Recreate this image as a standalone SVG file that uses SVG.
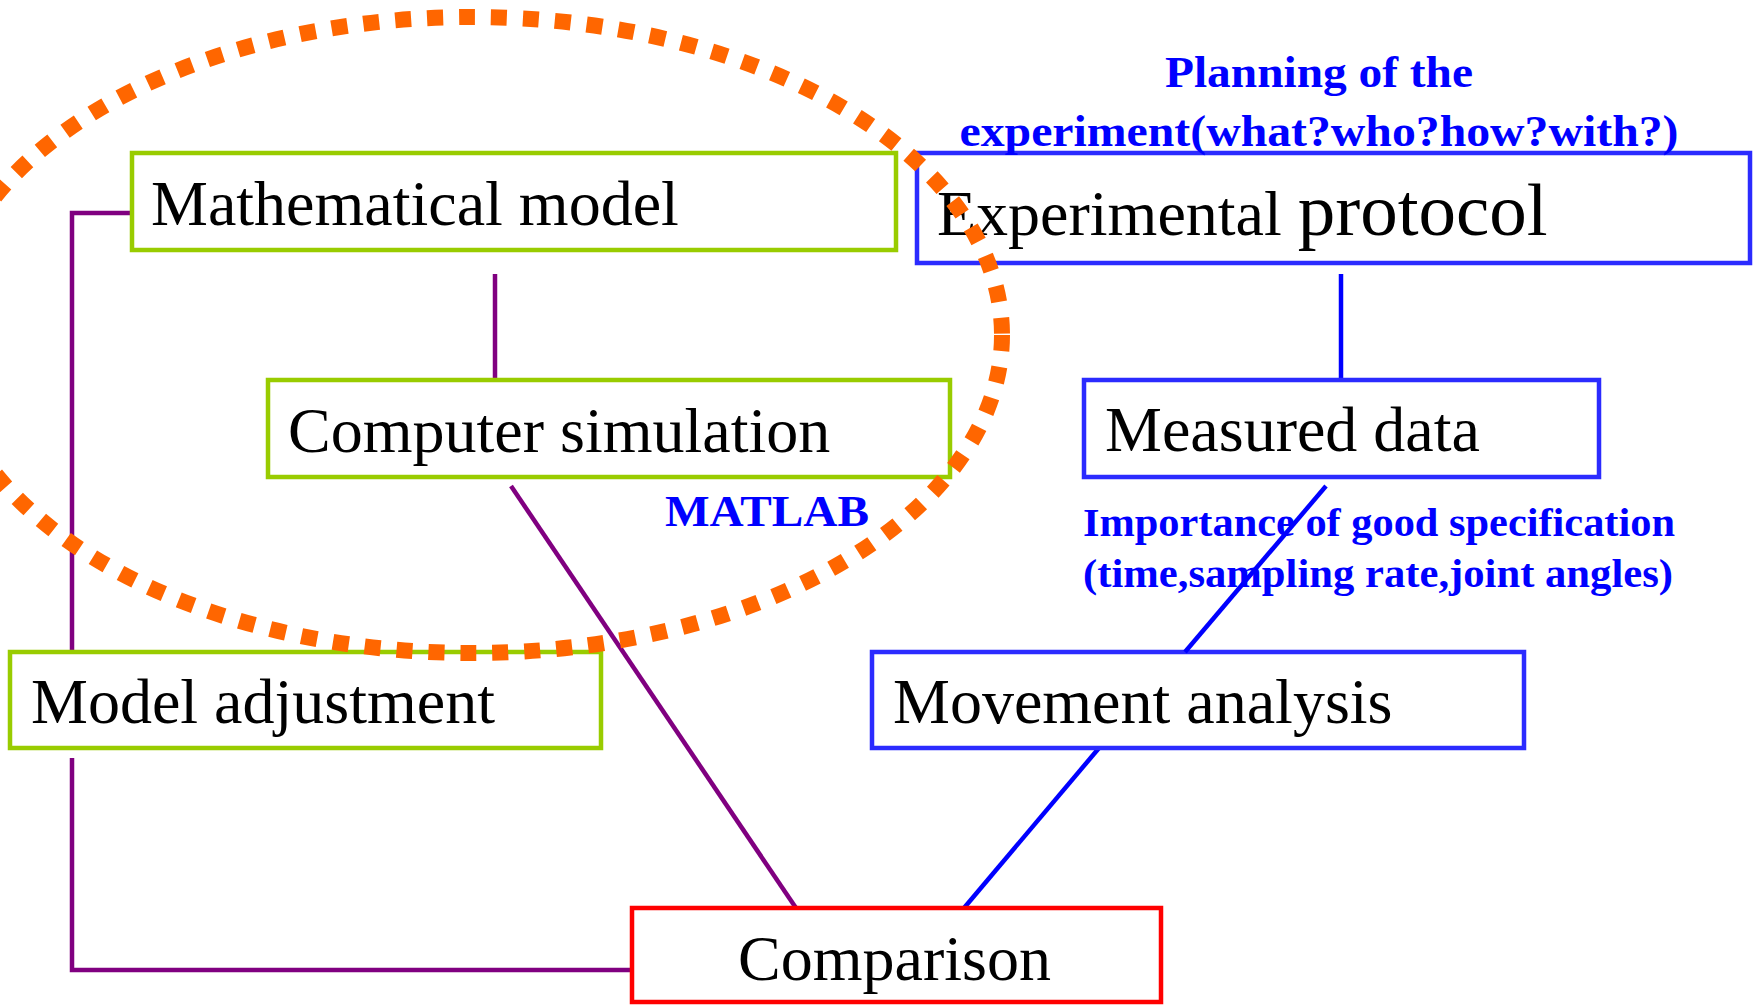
<svg xmlns="http://www.w3.org/2000/svg" width="1756" height="1005" viewBox="0 0 1756 1005">
  <style>
    .box { fill: #ffffff; stroke-width: 4.5; }
    .green { stroke: #99CC00; }
    .blue { stroke: #2B2BFF; }
    .red { stroke: #FF0000; }
    .label { font-family: "Liberation Serif", "Times New Roman", serif; font-size: 64px; fill: #000000; }
    .note { font-family: "Liberation Serif", "Times New Roman", serif; font-weight: bold; fill: #0000FF; }
    .purple { stroke: #800080; stroke-width: 4.5; fill: none; }
    .link-blue { stroke: #0000FF; stroke-width: 4.5; fill: none; }
  </style>

  <rect width="1756" height="1005" fill="#ffffff"/>

  <!-- connectors -->
  <g id="connectors">
    <path class="purple" d="M131 213 H72 V652"/>
    <path class="purple" d="M72 758 V970 H631" />
    <path class="purple" d="M495 274 V380"/>
    <path class="purple" d="M511 486 L796 908" stroke-width="3.5"/>
    <path class="link-blue" d="M1341 274 V380"/>
    <path class="link-blue" d="M1099 748 L964 908"/>
  </g>

  <!-- nodes -->
  <g id="mathematical-model">
    <rect class="box green" x="132" y="153" width="764" height="97"/>
    <text class="label" x="151" y="225">Mathematical model</text>
  </g>

  <g id="computer-simulation">
    <rect class="box green" x="268" y="380" width="682" height="97"/>
    <text class="label" x="288" y="452">Computer simulation</text>
  </g>

  <g id="model-adjustment">
    <rect class="box green" x="10" y="652" width="591" height="96"/>
    <text class="label" x="31" y="723">Model adjustment</text>
  </g>

  <g id="experimental-protocol">
    <rect class="box blue" x="917" y="153" width="833" height="110"/>
    <text class="label" x="937" y="235">Experimental <tspan font-size="75">protocol</tspan></text>
  </g>

  <g id="measured-data">
    <rect class="box blue" x="1084" y="380" width="515" height="97"/>
    <text class="label" x="1105" y="451">Measured data</text>
  </g>

  <g id="movement-analysis">
    <rect class="box blue" x="872" y="652" width="652" height="96"/>
    <text class="label" x="893" y="723">Movement analysis</text>
  </g>

  <g id="comparison">
    <rect class="box red" x="632" y="908" width="529" height="94"/>
    <text class="label" x="738" y="980">Comparison</text>
  </g>

  <!-- annotations -->
  <g id="annotations">
    <text class="note" x="1319" y="87" font-size="45" text-anchor="middle" textLength="308" lengthAdjust="spacingAndGlyphs">Planning of the</text>
    <text class="note" x="1319" y="146" font-size="45" text-anchor="middle" textLength="719" lengthAdjust="spacingAndGlyphs">experiment(what?who?how?with?)</text>
    <text class="note" x="665" y="526" font-size="45" textLength="204" lengthAdjust="spacingAndGlyphs">MATLAB</text>
    <text class="note" x="1083" y="536" font-size="41" textLength="592" lengthAdjust="spacingAndGlyphs">Importance of good specification</text>
    <text class="note" x="1083" y="587" font-size="41" textLength="590" lengthAdjust="spacingAndGlyphs">(time,sampling rate,joint angles)</text>
  </g>

  <!-- dotted grouping outline around the modelling side -->
  <ellipse id="modelling-outline" cx="472" cy="335" rx="530" ry="318" fill="none" stroke="#FF6600" stroke-width="16" stroke-dasharray="16 16"/>

  <!-- blue link drawn across the note text -->
  <path class="link-blue" d="M1326 486 L1185 652"/>
</svg>
